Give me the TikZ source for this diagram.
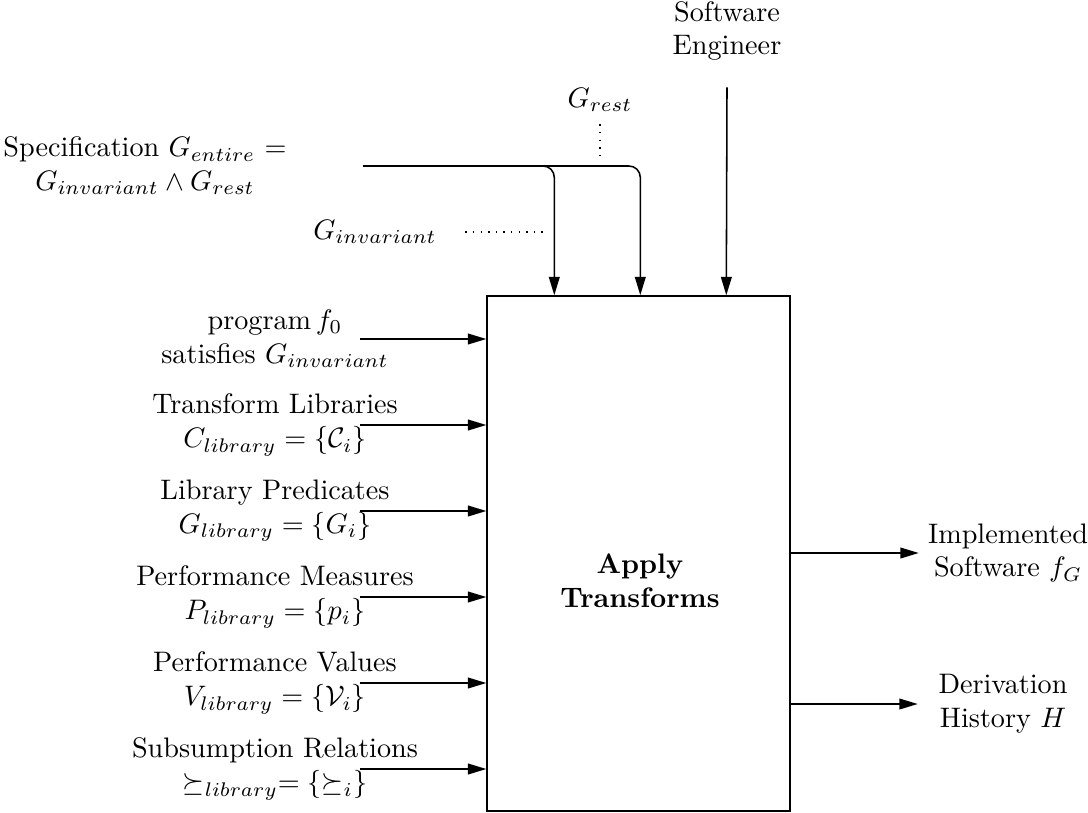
\documentclass[tikz,border=0pt]{standalone}
\usepackage{amsmath,amssymb}
\usetikzlibrary{arrows.meta,calc}
\begin{document}
\begin{tikzpicture}[x=0.3546pt,y=-0.3546pt,
  arr/.style={-{Triangle[length=6.5pt,width=3.8pt]}, line width=0.55pt},
  lbl/.style={align=center, inner sep=0pt},
  dots/.style={line width=0.6pt, dash pattern=on 0.5pt off 2.2pt}]
\useasboundingbox (0,0) rectangle (1088,813);

% central process box
\node[draw, line width=0.55pt, inner sep=0pt, minimum width=107.4pt, minimum height=182.6pt] (box) at (638.5,553.5) {};
\node[lbl, font=\bfseries] (title) at (640,581) {Apply\\Transforms};

% inputs from the top
\node[lbl] (spec) at (145,166) {Specification $G_{entire}$ =\\$G_{invariant} \wedge G_{rest}$};
\node[lbl] (grest) at (600,100) {$G_{rest}$};
\node[lbl] (ginv) at (375,232) {$G_{invariant}$};
\node[lbl] (eng) at (727,31) {Software\\Engineer};

\coordinate (s0) at (spec.east -| 363,0);
\coordinate (tinv) at ($(box.north west)+(68,0)$);
\coordinate (trest) at ($(box.north west)+(154,0)$);
\coordinate (teng) at ($(box.north west)+(240,0)$);

\draw[arr, rounded corners=4pt] (s0) -- (s0 -| tinv) -- (tinv);
\draw[arr, rounded corners=4pt] (s0) -- (s0 -| trest) -- (trest);
\draw[arr] (eng.south) ++(0,26) -- (teng);

\draw[dots] (grest.south) ++(0,12) -- ($(grest.south |- s0)+(0,-6)$);
\draw[dots] (ginv.east) ++(28,0) -- ($(ginv.east -| tinv)+(-7,0)$);

% inputs from the left
\node[lbl] (prog) at (275,339) {program$\,f_0$\\satisfies $G_{invariant}$};
\node[lbl] (clib) at (275,425) {Transform Libraries\\$C_{library} = \{\mathcal{C}_i\}$};
\node[lbl] (glib) at (275,511) {Library Predicates\\$G_{library} = \{G_i\}$};
\node[lbl] (plib) at (275,597) {Performance Measures\\$P_{library} = \{p_i\}$};
\node[lbl] (vlib) at (275,683) {Performance Values\\$V_{library} = \{\mathcal{V}_i\}$};
\node[lbl] (slib) at (275,769) {Subsumption Relations\\$\succeq_{library} = \{\succeq_i\}$};

\foreach \n in {prog,clib,glib,plib,vlib,slib}
  \draw[arr] (\n.center) ++(85,0) -- (\n.center -| box.west);

% outputs on the right
\node[lbl] (impl) at (1008,553) {Implemented\\Software $f_G$};
\node[lbl] (hist) at (1003,704) {Derivation\\History $H$};

\draw[arr] (impl.center -| box.east) -- ++(128,0);
\draw[arr] (hist.center -| box.east) -- ++(127,0);
\end{tikzpicture}
\end{document}
